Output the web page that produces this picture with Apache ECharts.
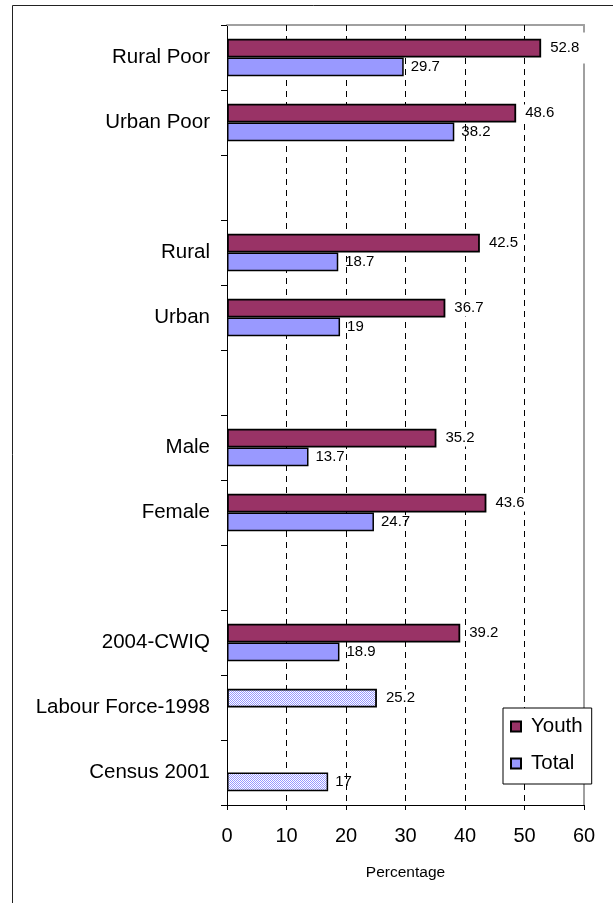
<!DOCTYPE html>
<html>
<head>
<meta charset="utf-8">
<script src="https://cdn.jsdelivr.net/npm/echarts@6/dist/echarts.min.js"></script>
<style>
  html, body { margin: 0; padding: 0; background: #fff; }
  #chart { width: 613px; height: 903px; }
</style>
</head>
<body>
<div id="chart"></div>
<script>
// Unemployment rates (%) by group; blank rows separate the groups
const categories = ['Rural Poor', 'Urban Poor', ' ', 'Rural', 'Urban', '  ', 'Male', 'Female', '   ', '2004-CWIQ', 'Labour Force-1998', 'Census 2001'];
const youth = [52.8, 48.6, null, 42.5, 36.7, null, 35.2, 43.6, null, 39.2, 25.2, null];
const total = [29.7, 38.2, null, 18.7, 19, null, 13.7, 24.7, null, 18.9, null, 17];
// earlier surveys are drawn with a dotted fill
const dottedCategories = ['Labour Force-1998', 'Census 2001'];
const xTicks = [0, 10, 20, 30, 40, 50, 60];
const gridValues = [10, 20, 30, 40, 50];

const FONT = 'Liberation Sans, Arial, sans-serif';
const YOUTH_COLOR = '#993366';
const TOTAL_COLOR = '#9999FF';

// checkerboard of lavender and white pixels
const dotCanvas = document.createElement('canvas');
dotCanvas.width = 2; dotCanvas.height = 2;
const dctx = dotCanvas.getContext('2d');
dctx.fillStyle = '#ffffff'; dctx.fillRect(0, 0, 2, 2);
dctx.fillStyle = TOTAL_COLOR; dctx.fillRect(0, 0, 1, 1); dctx.fillRect(1, 1, 1, 1);
const dotFill = { image: dotCanvas, repeat: 'repeat' };

function buildData(values, tallLabelBox) {
  return values.map((v, i) => {
    const item = { value: v };
    if (dottedCategories.includes(categories[i])) {
      item.itemStyle = { color: dotFill };
    }
    if (tallLabelBox && v !== null && v > xTicks[xTicks.length - 2]) {
      // a label sitting over the plot frame gets a taller white box
      item.label = { padding: [8, 6, 8, 2] };
    }
    return item;
  });
}

const chart = echarts.init(document.getElementById('chart'), null, { renderer: 'canvas' });

const labelBase = {
  show: true,
  position: 'right',
  color: '#000',
  fontFamily: FONT,
  fontSize: 15
};

chart.setOption({
  animation: false,
  backgroundColor: '#fff',
  textStyle: { fontFamily: FONT },
  graphic: [{
    type: 'rect',
    shape: { x: 12.5, y: 5.5, width: 700, height: 1000 },
    style: { fill: 'none', stroke: '#222', lineWidth: 1 },
    silent: true,
    z: -1
  }],
  grid: { left: 227, right: 29, top: 25, bottom: 98 },
  legend: {
    orient: 'vertical',
    left: 503,
    top: 708,
    backgroundColor: '#fff',
    borderColor: '#000',
    borderWidth: 1,
    padding: [8, 9, 10, 7],
    itemWidth: 10,
    itemHeight: 10,
    itemGap: 16,
    icon: 'rect',
    textStyle: { fontSize: 20.5, color: '#000', fontFamily: FONT, padding: [0, 0, 0, 5] },
    data: ['Youth', 'Total']
  },
  xAxis: [{
    type: 'value',
    min: xTicks[0],
    max: xTicks[xTicks.length - 1],
    interval: 10,
    name: 'Percentage',
    nameLocation: 'middle',
    nameGap: 60,
    nameTextStyle: { fontSize: 15.5, color: '#000', fontFamily: FONT },
    axisLine: { show: true, lineStyle: { color: '#000', width: 1 } },
    axisTick: { show: true, length: 5, lineStyle: { color: '#000' } },
    axisLabel: { fontSize: 20, color: '#000', fontFamily: FONT, margin: 21 },
    splitLine: { show: false }
  }, {
    type: 'value',
    position: 'top',
    min: xTicks[0],
    max: xTicks[xTicks.length - 1],
    axisLine: { show: true, onZero: false, lineStyle: { color: '#a0a0a0', width: 2 } },
    axisTick: { show: false },
    axisLabel: { show: false },
    splitLine: { show: false }
  }],
  yAxis: [{
    type: 'category',
    inverse: true,
    data: categories,
    axisLine: { show: true, onZero: false, lineStyle: { color: '#000', width: 1 } },
    axisTick: { show: true, length: 6, lineStyle: { color: '#000' } },
    axisLabel: { fontSize: 20.5, color: '#000', fontFamily: FONT, margin: 17 },
    splitLine: { show: false }
  }, {
    type: 'category',
    inverse: true,
    position: 'right',
    data: categories,
    axisLine: { show: true, onZero: false, lineStyle: { color: '#a0a0a0', width: 2 } },
    axisTick: { show: false },
    axisLabel: { show: false }
  }],
  series: [{
    name: 'Youth',
    type: 'bar',
    xAxisIndex: 0,
    yAxisIndex: 0,
    barGap: '0%',
    barCategoryGap: '42%',
    z: 3,
    itemStyle: { color: YOUTH_COLOR, borderColor: '#000', borderWidth: 1.8 },
    label: Object.assign({}, labelBase, { distance: 7, backgroundColor: '#fff', padding: [1, 2] }),
    data: buildData(youth, true),
    markLine: {
      silent: true,
      symbol: 'none',
      z: 1,
      label: { show: false },
      lineStyle: { color: '#000', type: [6, 5], width: 1 },
      data: gridValues.map(v => ({ xAxis: v }))
    }
  }, {
    name: 'Total',
    type: 'bar',
    xAxisIndex: 0,
    yAxisIndex: 0,
    barGap: '0%',
    barCategoryGap: '42%',
    z: 3,
    itemStyle: { color: TOTAL_COLOR, borderColor: '#000', borderWidth: 1.5 },
    label: Object.assign({}, labelBase, { distance: 7 }),
    data: buildData(total, false)
  }]
});
</script>
</body>
</html>
